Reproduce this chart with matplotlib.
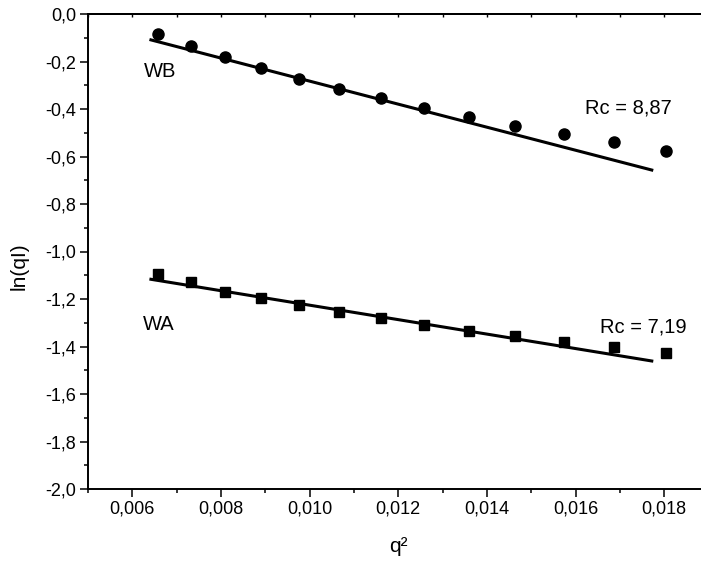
import matplotlib
matplotlib.use("Agg")
import matplotlib.pyplot as plt
from matplotlib.ticker import MultipleLocator, FuncFormatter

# values
q2 = [0.00658, 0.00732, 0.00809, 0.00890, 0.00977, 0.01066, 0.01160,
      0.01258, 0.01359, 0.01464, 0.01573, 0.01687, 0.01803]
wb = [-0.086, -0.133, -0.182, -0.229, -0.274, -0.316, -0.355,
      -0.395, -0.435, -0.472, -0.507, -0.540, -0.577]
wa = [-1.095, -1.128, -1.169, -1.197, -1.225, -1.253, -1.281,
      -1.309, -1.333, -1.356, -1.380, -1.404, -1.427]

# linear Guinier fits (end points)
fit_x = [0.00642, 0.01772]
fit_wb = [-0.109, -0.657]
fit_wa = [-1.117, -1.461]

labels = [("WB", 0.00627, -0.243), ("Rc = 8,87", 0.01621, -0.397),
          ("WA", 0.00623, -1.309), ("Rc = 7,19", 0.01655, -1.317)]

plt.rcParams['font.family'] = ['Liberation Sans', 'DejaVu Sans']

fig = plt.figure(figsize=(7.01, 5.62), dpi=100)
ax = fig.add_axes([88/701, 1-489/562, (708.5-88)/701, (489-14)/562])

ax.plot(q2, wb, 'o', color='black', ms=8, ls='none', zorder=3)
ax.plot(q2, wa, 's', color='black', ms=7.2, ls='none', zorder=3)
ax.plot(fit_x, fit_wb, '-', color='black', lw=2.2, zorder=2)
ax.plot(fit_x, fit_wa, '-', color='black', lw=2.2, zorder=2)

for txt, x, y in labels:
    ax.text(x, y, txt, ha='left', va='center', fontsize=14.5)

ax.set_xlim(0.005, 0.019)
ax.set_ylim(-2.0, 0.0)
ax.xaxis.set_major_locator(MultipleLocator(0.002))
ax.xaxis.set_minor_locator(MultipleLocator(0.001))
ax.yaxis.set_major_locator(MultipleLocator(0.2))
ax.yaxis.set_minor_locator(MultipleLocator(0.1))
ax.xaxis.set_major_formatter(FuncFormatter(lambda v, p: f"{v:.3f}".replace('.', ',')))
ax.yaxis.set_major_formatter(FuncFormatter(lambda v, p: f"{v:.1f}".replace('.', ',').replace('-0,0', '0,0')))

ax.tick_params(which='both', direction='out', width=1.1, labelsize=13, top=False, right=False)
ax.tick_params(which='major', length=5.5, pad=3)
ax.tick_params(which='minor', length=3)
# tiny inward ticks on the top spine, as in the original
top = ax.secondary_xaxis('top')
top.xaxis.set_major_locator(MultipleLocator(0.002))
top.xaxis.set_minor_locator(MultipleLocator(0.001))
top.tick_params(which='both', direction='in', length=2, width=1, labeltop=False)
top.spines['top'].set_linewidth(1.4)
for s in ax.spines.values():
    s.set_linewidth(1.4)

ax.set_xlabel("q²", fontsize=15)
ax.set_ylabel("ln(qI)", fontsize=15)
ax.yaxis.set_label_coords(-0.095, 0.47)
ax.xaxis.set_label_coords(0.5, -0.1)

fig.savefig("out.png", dpi=100)
